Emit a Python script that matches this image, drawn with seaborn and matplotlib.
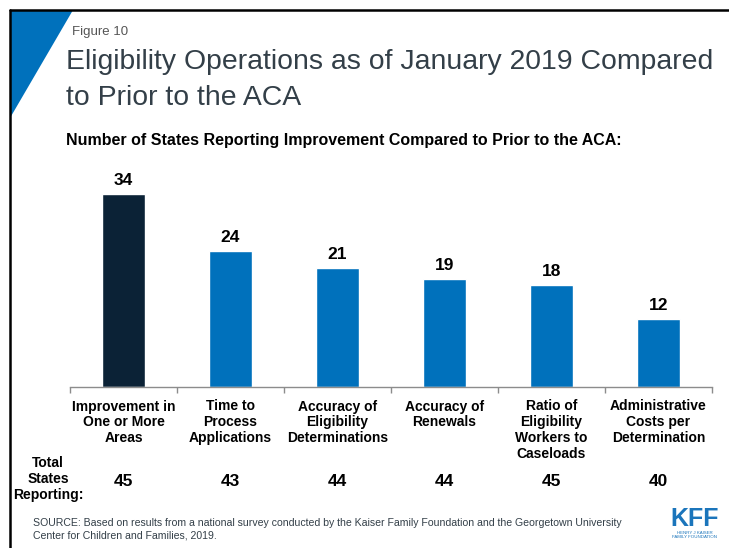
import matplotlib
matplotlib.use("Agg")
import matplotlib.pyplot as plt
import seaborn as sns
import pandas as pd
from matplotlib.patches import Polygon
from matplotlib.lines import Line2D

categories = [
    "Improvement in\nOne or More\nAreas",
    "Time to\nProcess\nApplications",
    "Accuracy of\nEligibility\nDeterminations",
    "Accuracy of\nRenewals",
    "Ratio of\nEligibility\nWorkers to\nCaseloads",
    "Administrative\nCosts per\nDetermination",
]
states_improved = [34, 24, 21, 19, 18, 12]
total_reporting = [45, 43, 44, 44, 45, 40]
bar_colors = ["#0B2236", "#0071BC", "#0071BC", "#0071BC", "#0071BC", "#0071BC"]

sns.set_theme(style="white")
plt.rcParams["font.family"] = ["Liberation Sans", "DejaVu Sans"]

W, H = 729, 548
fig = plt.figure(figsize=(W / 100, H / 100), dpi=100)
fig.patch.set_facecolor("white")

def fx(px):
    return px / W

def fy(py):
    return 1 - py / H

# plot area: baseline at y=387, categories from x=70 to x=712
ax = fig.add_axes([fx(70), fy(387), fx(712 - 70), (387 - 171) / H])
df = pd.DataFrame({"cat": categories, "val": states_improved})
sns.barplot(data=df, x="cat", y="val", hue="cat", palette=bar_colors,
            legend=False, width=0.4, ax=ax, saturation=1)
ax.set_ylim(0, 38)
ax.set_xlim(-0.5, len(categories) - 0.5)
ax.set_xlabel("")
ax.set_ylabel("")
ax.set_yticks([])
for s in ["top", "right", "left"]:
    ax.spines[s].set_visible(False)
ax.spines["bottom"].set_color("#8C8C8C")
ax.spines["bottom"].set_linewidth(1.0)

ax.set_xticks(range(len(categories)))
ax.set_xticklabels(categories, fontsize=10, fontweight="bold",
                   color="#000000", linespacing=1.17, va="top")
ax.tick_params(axis="x", which="major", length=0, pad=9)
ax.set_xticks([i - 0.5 for i in range(len(categories) + 1)], minor=True)
ax.tick_params(axis="x", which="minor", length=4, width=1,
               color="#8C8C8C", direction="out", bottom=True)

for i, v in enumerate(states_improved):
    ax.text(i, v + 1.0, str(v), ha="center", va="bottom",
            fontsize=12.5, fontweight="bold", color="#000000")

# totals row
for i, t in enumerate(total_reporting):
    x_fig = fx(70 + 107 * (i + 0.5))
    fig.text(x_fig, fy(481), str(t), ha="center", va="center",
             fontsize=12.5, fontweight="bold", color="#000000")
fig.text(fx(48), fy(479), "Total\nStates\nReporting:", ha="center", va="center",
         fontsize=10, fontweight="bold", color="#000000", linespacing=1.18)

# header
fig.patches.append(Polygon([[fx(10), fy(10)], [fx(73), fy(10)], [fx(10), fy(118)]],
                           closed=True, transform=fig.transFigure,
                           facecolor="#0071BC", edgecolor="none"))
fig.lines.append(Line2D([fx(10), 1], [fy(10), fy(10)], transform=fig.transFigure,
                        color="black", linewidth=1.8))
fig.lines.append(Line2D([fx(10), fx(10)], [fy(10), 0], transform=fig.transFigure,
                        color="black", linewidth=1.8))

fig.text(fx(72), fy(32), "Figure 10", ha="left", va="center",
         fontsize=9.5, color="#555555")
fig.text(fx(66), fy(80), "Eligibility Operations as of January 2019 Compared\nto Prior to the ACA",
         ha="left", va="center", fontsize=20.4, color="#333F48", linespacing=1.5)
fig.text(fx(66), fy(141), "Number of States Reporting Improvement Compared to Prior to the ACA:",
         ha="left", va="center", fontsize=11.5, fontweight="bold", color="#000000")

fig.text(fx(33), fy(529),
         "SOURCE: Based on results from a national survey conducted by the Kaiser Family Foundation and the Georgetown University\nCenter for Children and Families, 2019.",
         ha="left", va="center", fontsize=7.6, color="#333F48", linespacing=1.35)

# logo
fig.text(fx(695), fy(519), "KFF", ha="center", va="center", fontsize=18,
         fontweight="bold", color="#1B75BB")
fig.text(fx(695), fy(535), "HENRY J KAISER\nFAMILY FOUNDATION", ha="center", va="center",
         fontsize=3.2, color="#1B75BB", linespacing=1.1)

fig.savefig("out.png", dpi=100, facecolor="white")
